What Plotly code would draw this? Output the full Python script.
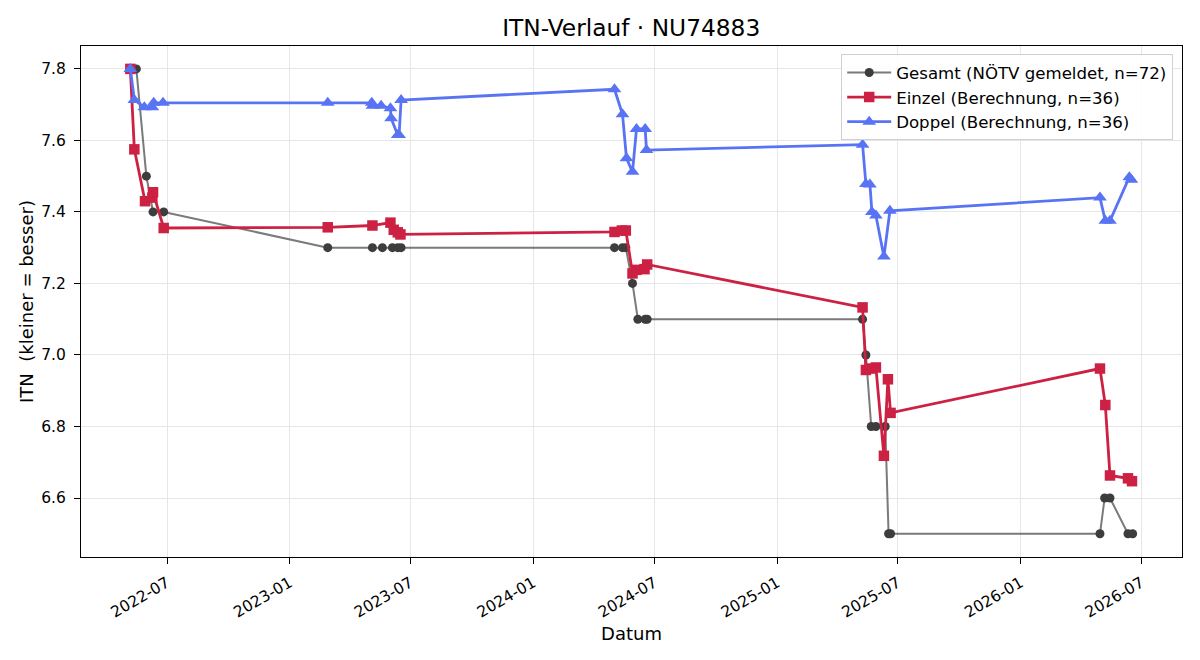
import plotly.graph_objects as go

# ---- Data ----
gesamt_dates = ["2022-05-16", "2022-05-31", "2022-06-10", "2022-06-26",
                "2023-02-27", "2023-05-05", "2023-05-20", "2023-06-04", "2023-06-12", "2023-06-17",
                "2024-05-02", "2024-05-14", "2024-05-19", "2024-05-29", "2024-06-06", "2024-06-17", "2024-06-20",
                "2025-05-09", "2025-05-14", "2025-05-22", "2025-05-29", "2025-06-12", "2025-06-17", "2025-06-20",
                "2026-04-30", "2026-05-07", "2026-05-15", "2026-06-11", "2026-06-18"]
gesamt_vals = [7.8, 7.5, 7.4, 7.4,
               7.3, 7.3, 7.3, 7.3, 7.3, 7.3,
               7.3, 7.3, 7.3, 7.2, 7.1, 7.1, 7.1,
               7.1, 7.0, 6.8, 6.8, 6.8, 6.5, 6.5,
               6.5, 6.6, 6.6, 6.5, 6.5]

einzel_dates = ["2022-05-07", "2022-05-13", "2022-05-29", "2022-06-09", "2022-06-10", "2022-06-26",
                "2023-02-27", "2023-05-05", "2023-06-01", "2023-06-06", "2023-06-12", "2023-06-16",
                "2024-05-02", "2024-05-13", "2024-05-19", "2024-05-29", "2024-06-04", "2024-06-16", "2024-06-20",
                "2025-05-09", "2025-05-14", "2025-05-20", "2025-05-29", "2025-06-10", "2025-06-16", "2025-06-20",
                "2026-04-30", "2026-05-08", "2026-05-15", "2026-06-11", "2026-06-17"]
einzel_vals = [7.80, 7.575, 7.43, 7.44, 7.455, 7.355,
               7.357, 7.362, 7.37, 7.35, 7.343, 7.337,
               7.344, 7.348, 7.348, 7.228, 7.238, 7.24, 7.253,
               7.133, 6.958, 6.962, 6.965, 6.718, 6.932, 6.838,
               6.962, 6.86, 6.663, 6.655, 6.647]

doppel_dates = ["2022-05-07", "2022-05-13", "2022-05-28", "2022-06-09", "2022-06-11", "2022-06-25",
                "2023-02-27", "2023-05-04", "2023-05-05", "2023-05-18", "2023-06-01", "2023-06-02",
                "2023-06-12", "2023-06-14", "2023-06-17",
                "2024-05-02", "2024-05-14", "2024-05-20", "2024-05-29", "2024-06-04", "2024-06-17", "2024-06-19",
                "2025-05-09", "2025-05-14", "2025-05-20", "2025-05-23", "2025-05-29", "2025-06-10", "2025-06-19",
                "2026-04-30", "2026-05-08", "2026-05-15", "2026-06-13", "2026-06-16"]
doppel_vals = [7.80, 7.713, 7.693, 7.693, 7.705, 7.705,
               7.705, 7.705, 7.697, 7.697, 7.69, 7.662,
               7.615, 7.615, 7.713,
               7.743, 7.673, 7.55, 7.512, 7.632, 7.632, 7.573,
               7.588, 7.478, 7.477, 7.40, 7.39, 7.275, 7.403,
               7.44, 7.375, 7.375, 7.497, 7.49]

y_ticks = [6.6, 6.8, 7.0, 7.2, 7.4, 7.6, 7.8]

FONT = "DejaVu Sans"

fig = go.Figure()
fig.add_trace(go.Scatter(
    x=gesamt_dates, y=gesamt_vals, mode="lines+markers",
    name="Gesamt (NÖTV gemeldet, n=72)",
    line=dict(color="rgba(85,85,85,0.78)", width=2),
    marker=dict(symbol="circle", size=9, color="#3d3d3d"),
))
fig.add_trace(go.Scatter(
    x=einzel_dates, y=einzel_vals, mode="lines+markers",
    name="Einzel (Berechnung, n=36)",
    line=dict(color="#cc2142", width=2.8),
    marker=dict(symbol="square", size=10.5, color="#cc2142"),
))
fig.add_trace(go.Scatter(
    x=doppel_dates, y=doppel_vals, mode="lines+markers",
    name="Doppel (Berechnung, n=36)",
    line=dict(color="#5874f4", width=2.8),
    marker=dict(symbol="triangle-up", size=12, color="#5874f4"),
))

fig.update_layout(
    width=1200, height=660,
    margin=dict(l=81, r=18, t=46, b=103),
    paper_bgcolor="white", plot_bgcolor="white",
    font=dict(family=FONT, size=14, color="black"),
    title=dict(text="ITN-Verlauf · NU74883", x=0.526, xanchor="center",
               y=0.958, yanchor="middle", font=dict(family=FONT, size=23.3)),
    showlegend=True,
    legend=dict(x=0.992, y=0.984, xanchor="right", yanchor="top",
                bgcolor="rgba(255,255,255,0.85)", bordercolor="#d0d0d0", borderwidth=1,
                font=dict(family=FONT, size=16.6), tracegroupgap=3, itemwidth=44),
)
fig.update_xaxes(
    type="date", range=["2022-02-22", "2026-08-31"],
    tick0="2022-07-01", dtick="M6", tickformat="%Y-%m", tickangle=-30,
    ticks="outside", ticklen=6, tickcolor="black",
    showline=True, linecolor="black", linewidth=1.2, mirror=True,
    showgrid=True, gridcolor="#e6e6e6", gridwidth=1, zeroline=False,
    tickfont=dict(family=FONT, size=15.5), ticklabelstandoff=4,
    title=dict(text="Datum", font=dict(family=FONT, size=18), standoff=6),
)
fig.update_yaxes(
    range=[6.435, 7.864], tickvals=y_ticks, tickformat=".1f",
    ticks="outside", ticklen=6, tickcolor="black",
    showline=True, linecolor="black", linewidth=1.2, mirror=True,
    showgrid=True, gridcolor="#e6e6e6", gridwidth=1, zeroline=False,
    tickfont=dict(family=FONT, size=15.5), ticklabelstandoff=5,
    title=dict(text="ITN\u00a0 (kleiner = besser)", font=dict(family=FONT, size=18), standoff=2),
)

fig.write_html("out.html")
